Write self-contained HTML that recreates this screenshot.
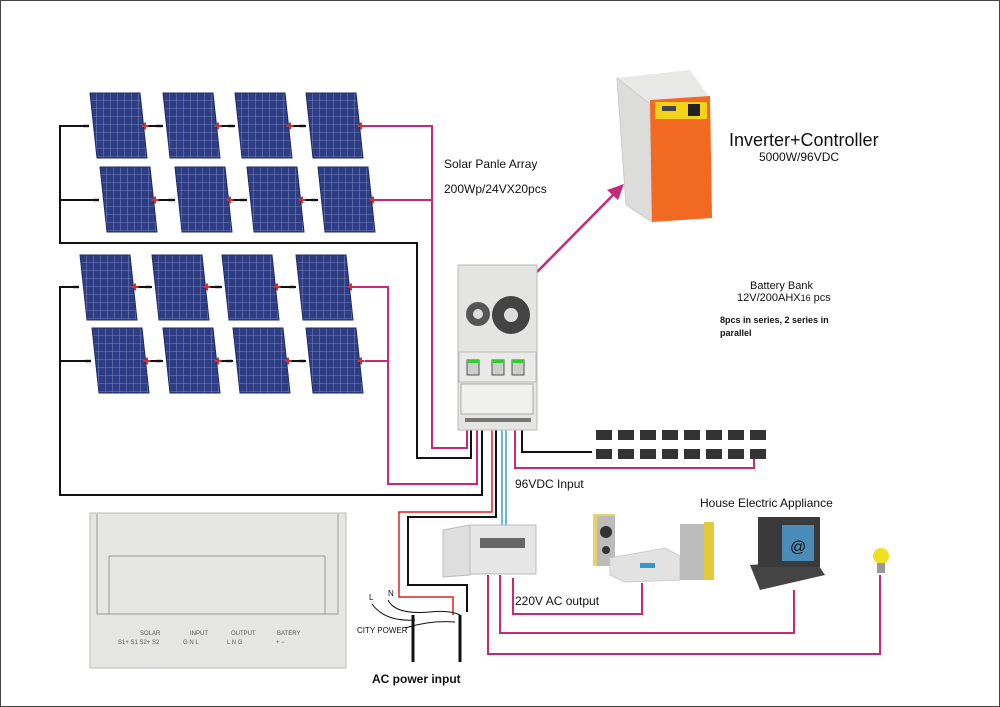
<!DOCTYPE html>
<html><head><meta charset="utf-8"><style>
html,body{margin:0;padding:0;background:#fff}
svg{display:block}
text{font-family:"Liberation Sans",sans-serif;fill:#111}
</style></head><body>
<svg width="1000" height="707" viewBox="0 0 1000 707" xmlns="http://www.w3.org/2000/svg">
<defs>
<pattern id="cells" width="7" height="8" patternUnits="userSpaceOnUse">
<rect width="7" height="8" fill="#2f3d85"/>
<path d="M6.5 0V8M0 7.5H7" stroke="#6e7cb8" stroke-width="0.6"/>
</pattern>
<g id="pan"><polygon points="0,0 50,0 57,65 7,65" fill="url(#cells)" stroke="#1f2a66" stroke-width="1"/></g>
<g id="pm"><rect x="-7" y="-1.2" width="6" height="2.4" fill="#111"/><path d="M55 -3.5V3.5M51.5 0H58.5" stroke="#c33" stroke-width="2"/></g>
</defs>
<rect x="0.5" y="0.5" width="999" height="706" fill="#fff" stroke="#444"/>

<g fill="none" stroke="#111" stroke-width="2">
<path d="M84 126H60V243H417V458H471V425"/>
<path d="M94 200H60"/>
<path d="M74 287H60V495H482V425"/>
<path d="M86 361H60"/>
<path d="M145 126H163M218 126H235M290 126H306"/>
<path d="M157 200H175M230 200H247M302 200H318"/>
<path d="M133 287H152M205 287H222M275 287H296"/>
<path d="M149 361H163M218 361H233M288 361H306"/>
<path d="M522 425V452H592"/>
<path d="M496 425V517H408V585H467V612"/>
<path d="M413 615V662M460 615V662" stroke-width="3"/>
</g>
<g fill="none" stroke="#c8287a" stroke-width="2">
<path d="M363 126H432V448H467V425"/>
<path d="M373 200H432"/>
<path d="M353 287H388V484H477V425"/>
<path d="M365 361H388"/>
<path d="M515 425V468H754V455"/>
<path d="M513 578V614H642V583"/>
<path d="M500 575V633H794V590"/>
<path d="M488 575V654H880V575"/>
</g>
<path d="M492 425V512H399V597H453V615" fill="none" stroke="#d22" stroke-width="1.5"/>
<path d="M502 425V525M506 425V525" stroke="#3aa0d0" stroke-width="1.5"/>
<path d="M537 272L618 190" stroke="#c8287a" stroke-width="2.5"/>
<polygon points="624,184 607,190 618,200" fill="#c8287a"/>

<use href="#pan" x="90" y="93"/><use href="#pan" x="163" y="93"/><use href="#pan" x="235" y="93"/><use href="#pan" x="306" y="93"/>
<use href="#pan" x="100" y="167"/><use href="#pan" x="175" y="167"/><use href="#pan" x="247" y="167"/><use href="#pan" x="318" y="167"/>
<use href="#pan" x="80" y="255"/><use href="#pan" x="152" y="255"/><use href="#pan" x="222" y="255"/><use href="#pan" x="296" y="255"/>
<use href="#pan" x="92" y="328"/><use href="#pan" x="163" y="328"/><use href="#pan" x="233" y="328"/><use href="#pan" x="306" y="328"/>
<use href="#pm" x="90" y="126"/><use href="#pm" x="163" y="126"/><use href="#pm" x="235" y="126"/><use href="#pm" x="306" y="126"/>
<use href="#pm" x="100" y="200"/><use href="#pm" x="175" y="200"/><use href="#pm" x="247" y="200"/><use href="#pm" x="318" y="200"/>
<use href="#pm" x="80" y="287"/><use href="#pm" x="152" y="287"/><use href="#pm" x="222" y="287"/><use href="#pm" x="296" y="287"/>
<use href="#pm" x="92" y="361"/><use href="#pm" x="163" y="361"/><use href="#pm" x="233" y="361"/><use href="#pm" x="306" y="361"/>

<rect x="458" y="265" width="79" height="165" fill="#e4e4e2" stroke="#bbb"/>
<rect x="459" y="352" width="77" height="30" fill="#e9e9e7" stroke="#bbb"/>
<rect x="461" y="384" width="72" height="30" fill="#f0f0ee" stroke="#aaa"/>
<circle cx="478" cy="314" r="12" fill="#555"/><circle cx="478" cy="314" r="5" fill="#ddd"/>
<circle cx="511" cy="315" r="19" fill="#444"/><circle cx="511" cy="315" r="7" fill="#ddd"/>
<rect x="467" y="360" width="12" height="15" fill="#ccc" stroke="#555"/><rect x="492" y="360" width="12" height="15" fill="#ccc" stroke="#555"/><rect x="512" y="360" width="12" height="15" fill="#ccc" stroke="#555"/>
<rect x="467" y="360" width="12" height="3" fill="#3c3"/><rect x="492" y="360" width="12" height="3" fill="#3c3"/><rect x="512" y="360" width="12" height="3" fill="#3c3"/>
<rect x="465" y="418" width="66" height="4" fill="#777"/>

<polygon points="617,78 690,70 710,98 650,104" fill="#e8e8e6"/>
<polygon points="617,78 650,104 652,222 626,205" fill="#dcdcda" stroke="#ccc"/>
<polygon points="650,100 710,96 712,218 652,222" fill="#f26a22"/>
<rect x="655" y="102" width="52" height="17" fill="#f2d21a"/>
<rect x="662" y="106" width="14" height="5" fill="#444"/><rect x="688" y="104" width="12" height="12" fill="#222"/>

<g fill="#333">
<rect x="596" y="430" width="16" height="10"/><rect x="618" y="430" width="16" height="10"/><rect x="640" y="430" width="16" height="10"/><rect x="662" y="430" width="16" height="10"/><rect x="684" y="430" width="16" height="10"/><rect x="706" y="430" width="16" height="10"/><rect x="728" y="430" width="16" height="10"/><rect x="750" y="430" width="16" height="10"/>
<rect x="596" y="449" width="16" height="10"/><rect x="618" y="449" width="16" height="10"/><rect x="640" y="449" width="16" height="10"/><rect x="662" y="449" width="16" height="10"/><rect x="684" y="449" width="16" height="10"/><rect x="706" y="449" width="16" height="10"/><rect x="728" y="449" width="16" height="10"/><rect x="750" y="449" width="16" height="10"/>
</g>

<polygon points="443,530 470,525 470,575 443,577" fill="#dedede" stroke="#bbb"/>
<rect x="470" y="525" width="66" height="49" fill="#e6e6e6" stroke="#bbb"/>
<rect x="480" y="538" width="45" height="10" fill="#666"/>

<rect x="593" y="514" width="22" height="52" fill="#e4d36a"/><rect x="597" y="516" width="18" height="50" fill="#bbb"/>
<circle cx="606" cy="532" r="6" fill="#333"/><circle cx="606" cy="550" r="4" fill="#333"/>
<polygon points="610,558 665,548 680,556 680,580 625,582 610,575" fill="#e2e2e2" stroke="#ccc"/>
<rect x="640" y="563" width="15" height="5" fill="#39c"/>
<rect x="680" y="524" width="28" height="56" fill="#bbb"/><rect x="704" y="522" width="10" height="58" fill="#e4c93a"/>
<polygon points="750,565 815,560 825,575 760,590" fill="#444"/>
<rect x="758" y="517" width="62" height="50" fill="#3a3a3a"/>
<rect x="782" y="525" width="32" height="36" fill="#4a8bb8"/>
<text x="790" y="552" font-size="16" fill="#cde">@</text>
<circle cx="881" cy="556" r="8" fill="#f0e020"/><rect x="877" y="563" width="8" height="10" fill="#999"/>

<g fill="none" stroke="#111" stroke-width="1">
<path d="M372 604Q385 622 415 620"/><path d="M388 600Q395 615 430 612Q450 610 460 615"/>
<path d="M405 628Q430 620 455 622"/>
</g>

<rect x="90" y="513" width="256" height="155" fill="#e5e5e2" stroke="#bbb"/>
<path d="M97 514V614H338V514" fill="none" stroke="#999"/>
<path d="M109 556H325M109 556V614M325 556V614" fill="none" stroke="#999"/>
<g font-size="6">
<text x="140" y="635" style="fill:#555">SOLAR</text><text x="118" y="644" style="fill:#555">S1+ S1   S2+ S2</text>
<text x="190" y="635" style="fill:#555">INPUT</text><text x="183" y="644" style="fill:#555">G  N  L</text>
<text x="231" y="635" style="fill:#555">OUTPUT</text><text x="227" y="644" style="fill:#555">L  N  G</text>
<text x="277" y="635" style="fill:#555">BATERY</text><text x="276" y="644" style="fill:#555">+     −</text>
</g>

<text x="444" y="168" font-size="12">Solar Panle Array</text>
<text x="444" y="193" font-size="12">200Wp/24VX20pcs</text>
<text x="729" y="146" font-size="18">Inverter+Controller</text>
<text x="759" y="161" font-size="12">5000W/96VDC</text>
<text x="750" y="289" font-size="11">Battery Bank</text>
<text x="737" y="301" font-size="11">12V/200AHX<tspan font-size="9">16</tspan> pcs</text>
<text x="720" y="323" font-size="9" font-weight="bold">8pcs in series, 2 series in</text>
<text x="720" y="336" font-size="9" font-weight="bold">parallel</text>
<text x="515" y="488" font-size="12">96VDC Input</text>
<text x="700" y="507" font-size="12">House Electric Appliance</text>
<text x="515" y="605" font-size="12">220V AC output</text>
<text x="369" y="600" font-size="8">L</text><text x="388" y="596" font-size="8">N</text>
<text x="357" y="633" font-size="8">CITY POWER</text>
<text x="372" y="683" font-size="12" font-weight="bold">AC power input</text>
</svg>
</body></html>
